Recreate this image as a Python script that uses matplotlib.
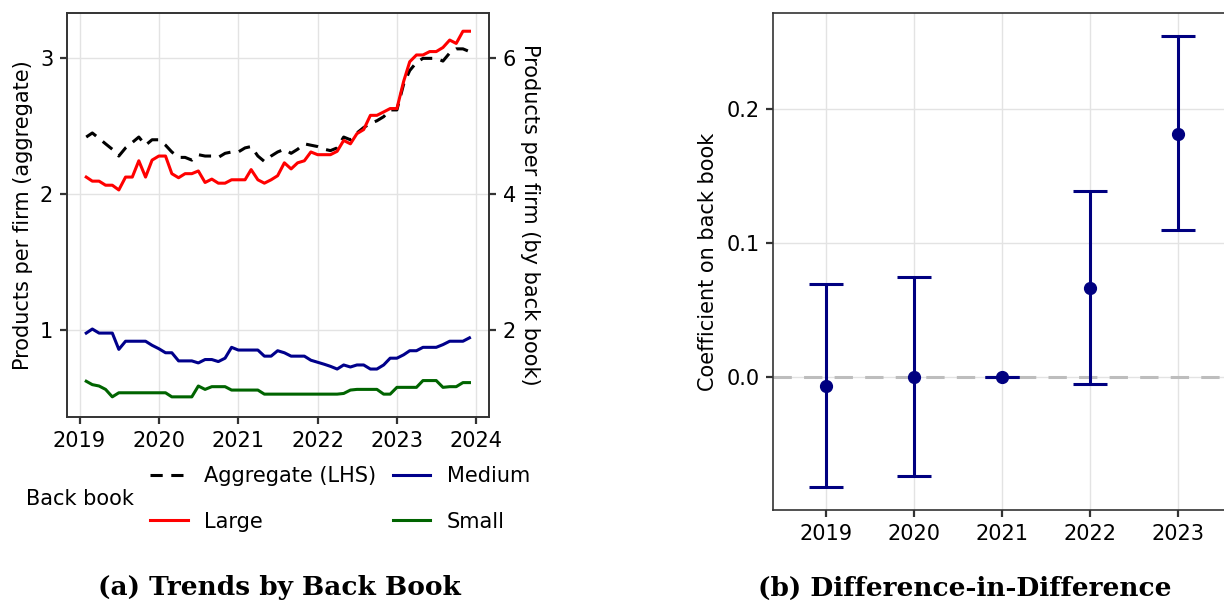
import numpy as np
import pandas as pd
import matplotlib
matplotlib.use("Agg")
import matplotlib.pyplot as plt
import matplotlib.dates as mdates

# ----------------------------
# Data: monthly products per firm (Feb 2019 - Dec 2023)
# ----------------------------
months = pd.date_range("2019-02-01", "2023-12-01", freq="MS")

aggregate = [
    2.42, 2.45, 2.41, 2.37, 2.33, 2.28, 2.34, 2.38, 2.42, 2.36, 2.40,
    2.40, 2.36, 2.31, 2.27, 2.27, 2.25, 2.29, 2.28, 2.28, 2.27, 2.30, 2.31,
    2.31, 2.34, 2.35, 2.28, 2.24, 2.28, 2.31, 2.33, 2.30, 2.33, 2.37, 2.36,
    2.35, 2.33, 2.32, 2.34, 2.42, 2.40, 2.45, 2.49, 2.52, 2.54, 2.57, 2.62,
    2.62, 2.81, 2.91, 2.97, 3.00, 3.00, 3.00, 2.98, 3.04, 3.07, 3.07, 3.05,
]
large = [
    4.25, 4.19, 4.19, 4.13, 4.13, 4.06, 4.25, 4.25, 4.49, 4.25, 4.50,
    4.56, 4.56, 4.30, 4.24, 4.30, 4.30, 4.34, 4.17, 4.22, 4.16, 4.16, 4.21,
    4.21, 4.21, 4.36, 4.21, 4.16, 4.21, 4.27, 4.46, 4.37, 4.46, 4.49, 4.62,
    4.58, 4.58, 4.58, 4.63, 4.79, 4.74, 4.89, 4.95, 5.16, 5.16, 5.21, 5.26,
    5.26, 5.66, 5.95, 6.05, 6.05, 6.10, 6.10, 6.16, 6.27, 6.22, 6.40, 6.40,
]
medium = [
    1.95, 2.01, 1.95, 1.95, 1.95, 1.71, 1.83, 1.83, 1.83, 1.83, 1.77,
    1.72, 1.66, 1.66, 1.54, 1.54, 1.54, 1.51, 1.56, 1.56, 1.53, 1.58, 1.74,
    1.70, 1.70, 1.70, 1.70, 1.61, 1.61, 1.69, 1.66, 1.61, 1.61, 1.61, 1.55,
    1.52, 1.49, 1.46, 1.42, 1.48, 1.45, 1.48, 1.48, 1.42, 1.42, 1.48, 1.58,
    1.58, 1.63, 1.69, 1.69, 1.74, 1.74, 1.74, 1.78, 1.83, 1.83, 1.83, 1.88,
]
small = [
    1.24, 1.19, 1.17, 1.12, 1.01, 1.07, 1.07, 1.07, 1.07, 1.07, 1.07,
    1.07, 1.07, 1.01, 1.01, 1.01, 1.01, 1.17, 1.12, 1.16, 1.16, 1.16, 1.11,
    1.11, 1.11, 1.11, 1.11, 1.05, 1.05, 1.05, 1.05, 1.05, 1.05, 1.05, 1.05,
    1.05, 1.05, 1.05, 1.05, 1.06, 1.11, 1.12, 1.12, 1.12, 1.12, 1.05, 1.05,
    1.15, 1.15, 1.15, 1.15, 1.25, 1.25, 1.25, 1.15, 1.16, 1.16, 1.22, 1.22,
]

# ----------------------------
# Data: difference-in-difference coefficients
# ----------------------------
years = [2019, 2020, 2021, 2022, 2023]
coef = [-0.0065, 0.0, 0.0, 0.0665, 0.1816]
ci_low = [-0.0824, -0.0742, 0.0, -0.0056, 0.1098]
ci_high = [0.0690, 0.0742, 0.0, 0.1387, 0.2544]

# ----------------------------
# Style
# ----------------------------
plt.rcParams["font.family"] = ["DejaVu Sans"]
FS = 15
grid_col = "#e3e3e3"
spine_col = "#333333"

fig = plt.figure(figsize=(12.24, 6.03), dpi=100)


def style_axis(ax):
    for s in ax.spines.values():
        s.set_color(spine_col)
        s.set_linewidth(1.2)
    ax.tick_params(labelsize=FS, length=5, width=1.6, color=spine_col, pad=5)


# ----------------------------
# (a) Trends by back book
# ----------------------------
ax = fig.add_axes([0.0548, 0.3088, 0.3444, 0.669])
ax2 = ax.twinx()

l_agg, = ax.plot(months, aggregate, color="black", lw=2.2, ls=(0, (4, 2.8)),
                 label="Aggregate (LHS)")
l_large, = ax2.plot(months, large, color="red", lw=2.2, label="Large")
l_med, = ax2.plot(months, medium, color="darkblue", lw=2.2, label="Medium")
l_small, = ax2.plot(months, small, color="darkgreen", lw=2.2, label="Small")

ax2.set_ylim(0.716, 6.663)
ax.set_ylim(0.358, 3.3315)
ax.set_yticks([1, 2, 3])
ax2.set_yticks([2, 4, 6])

ax.xaxis.set_major_locator(mdates.YearLocator())
ax.xaxis.set_major_formatter(mdates.DateFormatter("%Y"))
ax.grid(True, color=grid_col, lw=1)
ax.set_axisbelow(True)

ax.set_ylabel("Products per firm (aggregate)", fontsize=FS, labelpad=5)
ax2.set_ylabel("Products per firm (by back book)", fontsize=FS, rotation=270,
               labelpad=17.5)
style_axis(ax)
style_axis(ax2)

fig.legend(handles=[l_agg, l_large, l_med, l_small], ncol=2, frameon=False,
           fontsize=FS, loc="center left",
           bbox_to_anchor=(150 / 1224, 1 - 499 / 603),
           borderpad=0, borderaxespad=0, handlelength=1.8,
           handletextpad=0.8, columnspacing=0.8, labelspacing=1.22)
fig.text(26 / 1224, 1 - 499 / 603, "Back book", fontsize=FS,
         ha="left", va="center")

# ----------------------------
# (b) Difference-in-difference
# ----------------------------
bx = fig.add_axes([0.6319, 0.1542, 0.3729, 0.8237])
bx.axhline(0, color="#bdbdbd", lw=2.2, ls=(0, (6, 4)), zorder=1)
err = [np.array(coef) - np.array(ci_low), np.array(ci_high) - np.array(coef)]
bx.errorbar(years, coef, yerr=err, fmt="o", color="navy", ms=8.5, lw=2.2,
            capsize=12.5, capthick=2.2, zorder=3)
bx.set_xlim(2018.407, 2023.593)
bx.set_xticks(years)
bx.set_yticks([0.0, 0.1, 0.2])
bx.grid(True, color=grid_col, lw=1)
bx.set_axisbelow(True)
bx.set_ylabel("Coefficient on back book", fontsize=FS, labelpad=6)
style_axis(bx)

# ----------------------------
# Captions
# ----------------------------
fig.text(279.7 / 1224, 1 - 588 / 603, "(a) Trends by Back Book",
         fontfamily="DejaVu Serif", fontweight="bold", fontsize=19,
         ha="center", va="center")
fig.text(965 / 1224, 1 - 588 / 603, "(b) Difference-in-Difference",
         fontfamily="DejaVu Serif", fontweight="bold", fontsize=19,
         ha="center", va="center")

fig.savefig("out.png", dpi=100)
